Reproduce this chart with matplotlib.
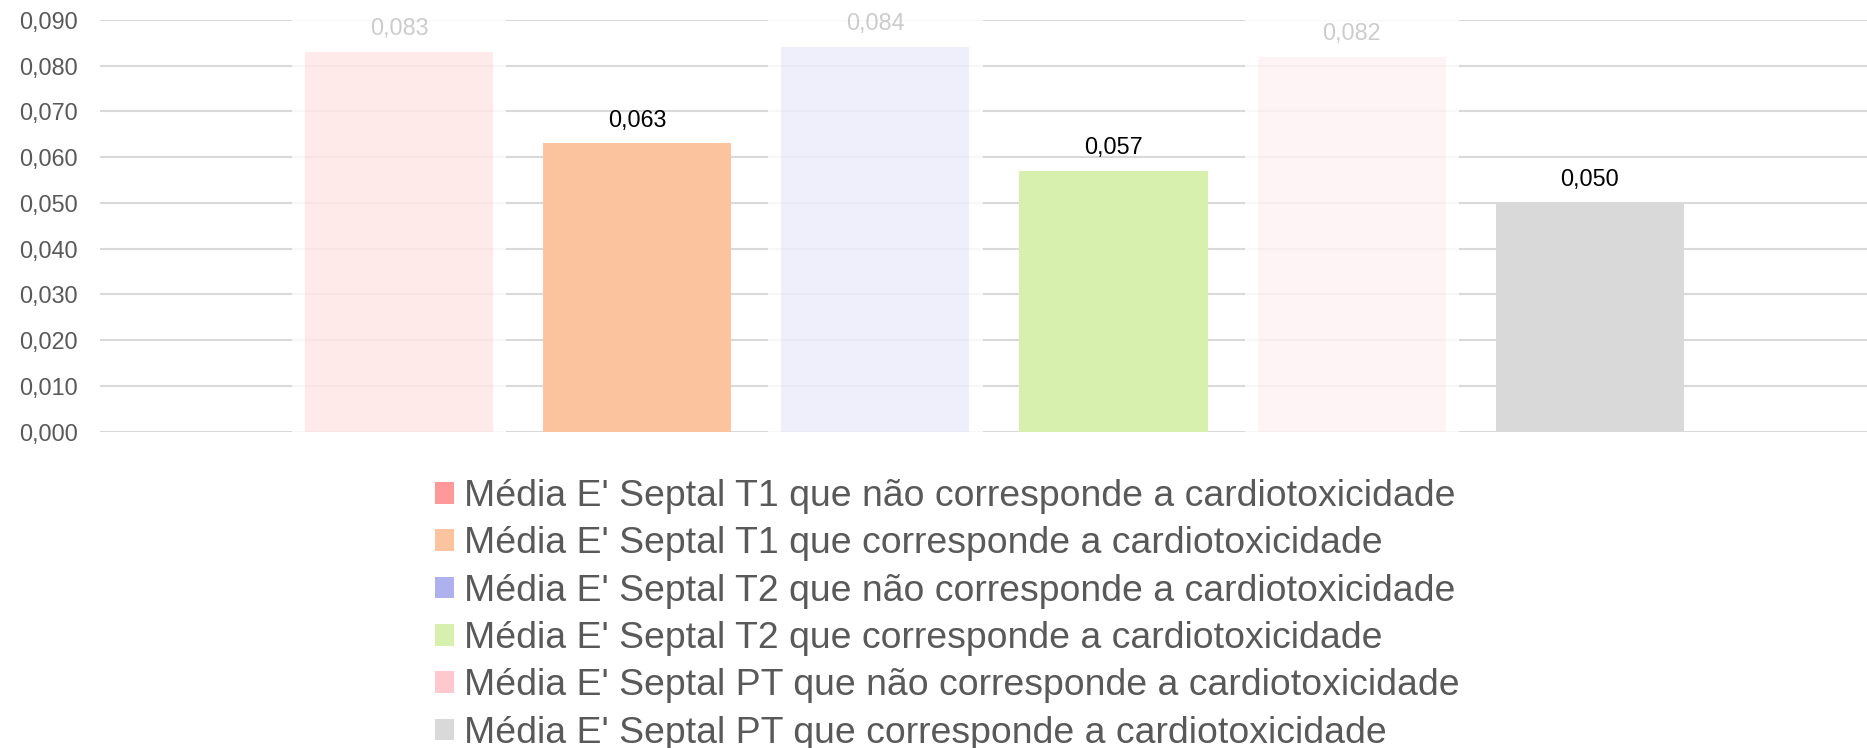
# ==========================================
# E' Septal - comparacao T1 / T2 / PT
# ==========================================

import matplotlib
matplotlib.use("Agg")
import matplotlib.pyplot as plt
from matplotlib.patches import Patch
from matplotlib.ticker import FuncFormatter, MultipleLocator

plt.rcParams["font.family"] = ["Liberation Sans", "DejaVu Sans"]

# ==========================================
# DATA
# ==========================================

series_labels = [
    "Média E' Septal T1 que não corresponde a cardiotoxicidade",
    "Média E' Septal T1 que corresponde a cardiotoxicidade",
    "Média E' Septal T2 que não corresponde a cardiotoxicidade",
    "Média E' Septal T2 que corresponde a cardiotoxicidade",
    "Média E' Septal PT que não corresponde a cardiotoxicidade",
    "Média E' Septal PT que corresponde a cardiotoxicidade",
]

values = [0.083, 0.063, 0.084, 0.057, 0.082, 0.050]

# series that are shown highlighted (the others are faded)
highlighted = [False, True, False, True, False, True]

colors = ["#ff9999", "#fcc39f", "#aeb1ee", "#d8f0ad", "#ffc8ce", "#d9d9d9"]

# ==========================================
# STYLE
# ==========================================

FADE = 0.2
GRID = "#d9d9d9"
TEXT = "#595959"
BAR_W = 0.79
BAND_W = 0.90


def fmt(v, pos=None):
    return f"{v:.3f}".replace(".", ",")


# ==========================================
# FIGURE
# ==========================================

fig = plt.figure(figsize=(18.67, 7.48), dpi=100)
ax = fig.add_axes([100 / 1867, 316.5 / 748, 1767 / 1867, 411.5 / 748])

x = list(range(len(values)))

for i in x:
    alpha = 1.0 if highlighted[i] else FADE

    if not highlighted[i]:
        # faded band also washes out the gridlines
        ax.axvspan(i - BAND_W / 2, i + BAND_W / 2,
                   color="white", alpha=1 - FADE, zorder=1, lw=0)

    ax.bar(i, values[i], width=BAR_W, color=colors[i],
           alpha=alpha, zorder=2, lw=0)

    ax.annotate(fmt(values[i]), (i, values[i]),
                xytext=(0, 12.2), textcoords="offset points",
                ha="center", va="baseline", fontsize=16.8,
                color="black", alpha=alpha, zorder=3)

# ==========================================
# AXES
# ==========================================

ax.set_ylim(0, 0.09)
ax.set_xlim(-1.255, 6.163)

ax.yaxis.set_major_locator(MultipleLocator(0.01))
ax.yaxis.set_major_formatter(FuncFormatter(fmt))

ax.set_xticks([])
ax.tick_params(axis="y", length=0, pad=15.8, labelsize=16.8, labelcolor=TEXT)

ax.grid(axis="y", color=GRID, lw=1.5, zorder=0.5)
ax.set_axisbelow(True)

for s in ax.spines.values():
    s.set_visible(False)

# ==========================================
# LEGEND
# ==========================================

handles = [Patch(facecolor=c, edgecolor="none") for c in colors]

fig.legend(
    handles, series_labels,
    loc="upper left",
    bbox_to_anchor=(435 / 1867, 269 / 748),
    frameon=False,
    fontsize=26.9,
    labelcolor=TEXT,
    handlelength=0.51,
    handleheight=0.51,
    handletextpad=0.27,
    labelspacing=0.33,
    borderpad=0,
    borderaxespad=0,
)

fig.savefig("out.png", dpi=100)
